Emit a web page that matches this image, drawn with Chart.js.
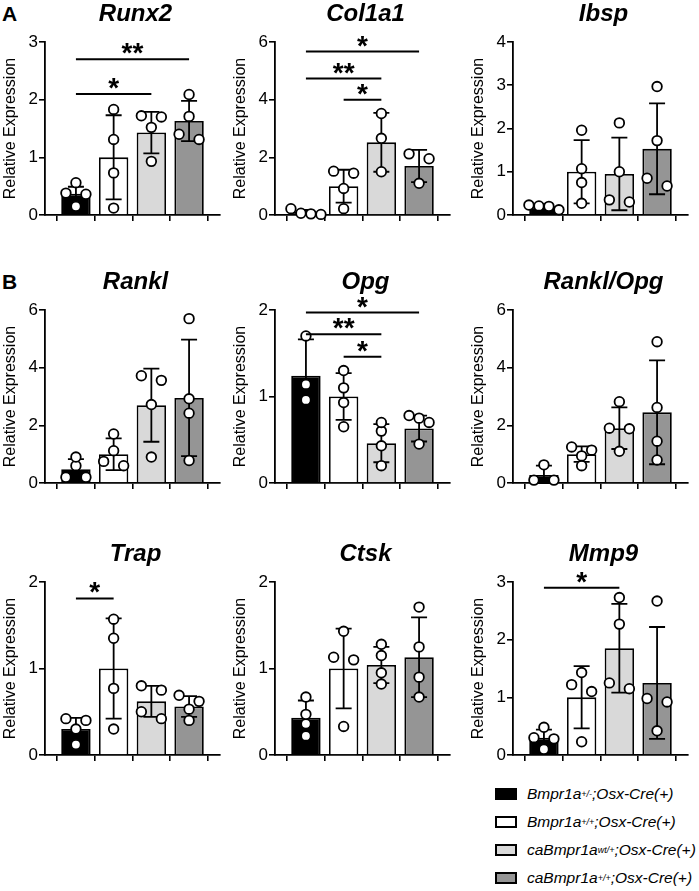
<!DOCTYPE html>
<html>
<head>
<meta charset="utf-8">
<script src="https://cdn.jsdelivr.net/npm/chart.js@4.4.1/dist/chart.umd.min.js"></script>
<style>
  body { margin: 0; width: 699px; height: 891px; position: relative; overflow: hidden; background: #fff;
         font-family: "Liberation Sans", Arial, sans-serif; color: #000; }
  canvas { position: absolute; }
  .panelLbl { position: absolute; left: 2px; font-weight: bold; font-size: 21px; line-height: 20px; }
  #legend { position: absolute; left: 495px; top: 780px; font-style: italic; font-size: 15.5px; }
  .row { height: 28px; display: flex; align-items: center; white-space: nowrap; }
  .sw { width: 22px; height: 12px; border: 2px solid #000; box-sizing: border-box; margin-right: 10px; }
  sup { font-size: 9px; line-height: 0; vertical-align: 5px; }
</style>
</head>
<body>
<div class="panelLbl" style="top:4px">A</div>
<div class="panelLbl" style="top:272px">B</div>
<div id="legend"></div>
<script>
"use strict"
// Gruppen (Legende) und Farben der Balken
const groupBase = ['Bmpr1a', 'Bmpr1a', 'caBmpr1a', 'caBmpr1a'];
const groupSup = ['+/-', '+/+', 'wt/+', '+/+'];
const groupTail = ';Osx-Cre(+)';
const barColors = ['#000000', '#ffffff', '#d9d9d9', '#959595'];

// Gene (Reihenfolge = Panels links->rechts, oben->unten)
const genes = ['Runx2', 'Col1a1', 'Ibsp', 'Rankl', 'Opg', 'Rankl/Opg', 'Trap', 'Ctsk', 'Mmp9'];
const yMax = [3, 6, 4, 6, 2, 6, 2, 2, 3];
const yStep = [1, 2, 1, 2, 1, 2, 1, 1, 1];

// Mittelwert, SD, Einzelwerte, Signifikanz [von, bis, Sterne, Hoehe]
const runx2Mean = [0.37, 1.0, 1.43, 1.63];
const runx2Sd = [0.12, 0.73, 0.36, 0.35];
const runx2Pts = [[0.15, 0.36, 0.38, 0.56], [0.12, 0.73, 1.31, 1.83], [0.93, 1.52, 1.7, 1.72], [1.31, 1.4, 1.71, 2.09]];
const runx2Sig = [[0, 2, '*', 2.1], [0, 3, '**', 2.7]];

const col1a1Mean = [0.1, 1.0, 2.52, 1.7];
const col1a1Sd = [0.08, 0.57, 1.02, 0.56];
const col1a1Pts = [[0.02, 0.04, 0.06, 0.22], [0.22, 0.92, 1.45, 1.52], [1.5, 2.66, 3.52], [1.1, 1.95, 2.12]];
const col1a1Sig = [[0, 3, '*', 5.67], [0, 2, '**', 4.73], [1, 2, '*', 4.0]];

const ibspMean = [0.2, 1.0, 0.95, 1.53];
const ibspSd = [0.05, 0.73, 0.84, 1.05];
const ibspPts = [[0.12, 0.2, 0.21, 0.23], [0.27, 0.75, 1.07, 1.96], [0.3, 0.35, 1.0, 2.13], [0.67, 0.85, 1.72, 2.97]];
const ibspSig = [];

const ranklMean = [0.48, 1.0, 2.7, 2.95];
const ranklSd = [0.35, 0.55, 1.27, 2.02];
const ranklPts = [[0.2, 0.2, 0.6, 0.9], [0.6, 0.75, 1.12, 1.7], [0.9, 2.72, 3.56, 3.72], [0.78, 2.42, 2.92, 5.7]];
const ranklSig = [];

const opgMean = [1.24, 1.0, 0.46, 0.63];
const opgSd = [0.42, 0.27, 0.22, 0.15];
const opgPts = [[0.96, 1.14, 1.7], [0.65, 0.93, 1.1, 1.3], [0.2, 0.43, 0.6, 0.7], [0.45, 0.7, 0.75, 0.78]];
const opgSig = [[0, 3, '*', 1.97], [0, 2, '**', 1.72], [1, 2, '*', 1.46]];

const ratioMean = [0.28, 1.0, 1.9, 2.45];
const ratioSd = [0.32, 0.27, 0.72, 1.8];
const ratioPts = [[0.1, 0.1, 0.63], [0.6, 0.94, 1.14, 1.25], [1.1, 1.88, 1.9, 2.82], [0.8, 1.45, 2.62, 4.9]];
const ratioSig = [];

const trapMean = [0.3, 1.0, 0.62, 0.56];
const trapSd = [0.13, 0.58, 0.18, 0.12];
const trapPts = [[0.12, 0.3, 0.4, 0.42], [0.3, 0.77, 1.35, 1.57], [0.42, 0.5, 0.75, 0.8], [0.4, 0.53, 0.62, 0.69]];
const trapSig = [[0, 1, '*', 1.81]];

const ctskMean = [0.43, 1.0, 1.04, 1.13];
const ctskSd = [0.2, 0.46, 0.21, 0.46];
const ctskPts = [[0.22, 0.36, 0.47, 0.67], [0.33, 1.1, 1.13, 1.43], [0.82, 0.95, 1.15, 1.28], [0.67, 0.9, 1.25, 1.71]];
const ctskSig = [];

const mmp9Mean = [0.3, 1.0, 1.85, 1.25];
const mmp9Sd = [0.14, 0.54, 0.77, 0.97];
const mmp9Pts = [[0.1, 0.28, 0.3, 0.48], [0.23, 1.1, 1.22, 1.43], [1.15, 1.25, 2.27, 2.73], [0.42, 0.92, 0.98, 2.67]];
const mmp9Sig = [[0, 2, '*', 2.9]];

const allMean = [runx2Mean, col1a1Mean, ibspMean, ranklMean, opgMean, ratioMean, trapMean, ctskMean, mmp9Mean];
const allSd = [runx2Sd, col1a1Sd, ibspSd, ranklSd, opgSd, ratioSd, trapSd, ctskSd, mmp9Sd];
const allPts = [runx2Pts, col1a1Pts, ibspPts, ranklPts, opgPts, ratioPts, trapPts, ctskPts, mmp9Pts];
const allSig = [runx2Sig, col1a1Sig, ibspSig, ranklSig, opgSig, ratioSig, trapSig, ctskSig, mmp9Sig];

// Layout
const FONT = '"Liberation Sans", Arial, sans-serif';
const colLeft = [0, 230, 468];
const rowTop = [0, 268, 540];
const X_MIN = -0.82, X_MAX = 3.82;
const PLOT_W = 175, PLOT_H = 173;
const DOT = 10; // Punktdurchmesser in px

// Legende
let html = '';
for (let i = 0; i < groupBase.length; i++) {
    html += '<div class="row"><div class="sw" style="background:' + barColors[i] + '"></div>' +
        groupBase[i] + '<sup>' + groupSup[i] + '</sup>' + groupTail + '</div>';
}
document.getElementById('legend').innerHTML = html;

// Punkte, die sich vertikal ueberdecken, in eine Reihe nebeneinander legen (wie in Prism)
function spread(vals, pxY) {
    const pxX = PLOT_W / (X_MAX - X_MIN);
    const order = vals.map((v, i) => i).sort((a, b) => vals[b] - vals[a]); // von oben nach unten
    const off = vals.map(() => 0);
    let rowPts = [order[0]];
    function flush() {
        const k = rowPts.length;
        if (k < 2) return;
        const step = k === 2 ? 2 * DOT : DOT;
        rowPts.forEach((idx, j) => { off[idx] = (j - (k - 1) / 2) * step / pxX; });
    }
    for (let j = 1; j < order.length; j++) {
        const gap = (vals[rowPts[0]] - vals[order[j]]) * pxY; // Abstand zum obersten Punkt der Reihe
        if (gap < 0.8 * DOT) rowPts.push(order[j]);
        else { flush(); rowPts = [order[j]]; }
    }
    flush();
    return off;
}

// Fehlerbalken (SD) direkt nach den Balken zeichnen
const errorBars = {
    id: 'errorBars',
    afterDatasetDraw(chart, args, opts) {
        if (args.index !== 0) return;
        const ctx = chart.ctx, xs = chart.scales.x, ys = chart.scales.y;
        ctx.save();
        ctx.strokeStyle = '#000';
        ctx.lineWidth = 1.8;
        opts.mean.forEach((m, i) => {
            const x = xs.getPixelForValue(i);
            const yTop = ys.getPixelForValue(m + opts.sd[i]);
            const yBot = ys.getPixelForValue(Math.max(0, m - opts.sd[i]));
            ctx.beginPath();
            ctx.moveTo(x, yTop); ctx.lineTo(x, yBot);
            ctx.moveTo(x - 8, yTop); ctx.lineTo(x + 8, yTop);
            ctx.moveTo(x - 8, yBot); ctx.lineTo(x + 8, yBot);
            ctx.stroke();
        });
        ctx.restore();
    }
};

// Titel und Signifikanzlinien
const overlay = {
    id: 'overlay',
    afterDraw(chart, args, opts) {
        const ctx = chart.ctx, xs = chart.scales.x, ys = chart.scales.y;
        const area = chart.chartArea;
        ctx.save();
        ctx.fillStyle = '#000';
        ctx.textAlign = 'center';
        ctx.textBaseline = 'middle';
        ctx.font = 'bold italic 24px ' + FONT;
        ctx.fillText(opts.title, (area.left + area.right) / 2 + 3, 14);

        ctx.strokeStyle = '#000';
        ctx.lineWidth = 2;
        ctx.font = 'bold 28px ' + FONT;
        ctx.textBaseline = 'alphabetic';
        opts.sig.forEach(s => {
            const x1 = xs.getPixelForValue(s[0]), x2 = xs.getPixelForValue(s[1]);
            const y = ys.getPixelForValue(s[3]);
            ctx.beginPath();
            ctx.moveTo(x1, y); ctx.lineTo(x2, y);
            ctx.stroke();
            ctx.fillText(s[2], (x1 + x2) / 2, y + 3);
        });
        ctx.restore();
    }
};

function makeChart(idx) {
    const mean = allMean[idx], sd = allSd[idx], pts = allPts[idx];
    const cv = document.createElement('canvas');
    cv.width = 228; cv.height = 230;
    cv.style.left = colLeft[idx % 3] + 'px';
    cv.style.top = rowTop[Math.floor(idx / 3)] + 'px';
    document.body.appendChild(cv);

    // Einzelwerte als Scatter-Punkte
    const pxY = PLOT_H / yMax[idx];
    const dots = [];
    pts.forEach((vals, g) => {
        const off = spread(vals, pxY);
        vals.forEach((v, k) => dots.push({ x: g + off[k], y: v }));
    });

    const tickOpts = { drawOnChartArea: false, drawTicks: true, tickLength: 6, color: '#000', lineWidth: 1.6 };

    return new Chart(cv, {
        type: 'bar',
        data: {
            datasets: [{
                type: 'bar',
                data: mean.map((m, i) => ({ x: i, y: m })),
                backgroundColor: barColors,
                borderColor: '#000',
                borderWidth: 1.8,
                barPercentage: 0.78,
                categoryPercentage: 1,
                order: 1
            }, {
                type: 'scatter',
                data: dots,
                pointRadius: 4.8,
                pointBackgroundColor: '#fff',
                pointBorderColor: '#000',
                pointBorderWidth: 1.8,
                clip: false,
                order: 0
            }]
        },
        options: {
            responsive: false,
            animation: false,
            events: [],
            layout: { padding: { top: 42, bottom: 7, left: 0, right: 8 } },
            plugins: {
                legend: { display: false },
                tooltip: { enabled: false },
                errorBars: { mean: mean, sd: sd },
                overlay: { title: genes[idx], sig: allSig[idx] }
            },
            scales: {
                x: {
                    type: 'linear', min: X_MIN, max: X_MAX, offset: false,
                    ticks: { display: false },
                    afterBuildTicks: s => { s.ticks = mean.map((m, i) => ({ value: i })); },
                    grid: tickOpts,
                    border: { color: '#000', width: 1.8 },
                    afterFit: s => { s.height = 8; }
                },
                y: {
                    min: 0, max: yMax[idx],
                    ticks: { stepSize: yStep[idx], color: '#000', font: { family: FONT, size: 17 }, padding: 1 },
                    grid: tickOpts,
                    border: { color: '#000', width: 1.8 },
                    title: { display: true, text: 'Relative Expression', color: '#000',
                             font: { family: FONT, size: 16 }, padding: { top: 1, bottom: 0 } },
                    afterFit: s => { s.width = 45; }
                }
            }
        },
        plugins: [errorBars, overlay]
    });
}

for (let i = 0; i < genes.length; i++) makeChart(i);
</script>
</body>
</html>
